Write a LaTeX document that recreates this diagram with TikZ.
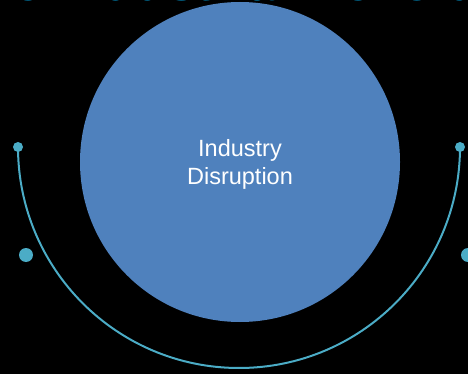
\documentclass[tikz,border=0pt]{standalone}
\usepackage{fontspec}
\setmainfont{Liberation Sans}
\definecolor{bluefill}{RGB}{79,129,189}
\definecolor{tealline}{RGB}{75,172,198}
\definecolor{titlecyan}{RGB}{0,166,226}
\begin{document}
\begin{tikzpicture}[x=1pt,y=-1pt,
  arcline/.style={draw=tealline,line width=2pt},
  dot/.style={circle,fill=tealline,inner sep=0pt},
  label/.style={text=white,font=\fontsize{23.5}{28}\selectfont,align=center}]
  \useasboundingbox (0,0) rectangle (468,374);
  \fill[black] (0,0) rectangle (468,374);
  % title line, mostly above the frame
  \begin{scope}
    \clip (0,0) rectangle (468,374);
    \node[anchor=base west,inner sep=0pt,text=titlecyan,
      font=\bfseries\fontsize{52}{60}\selectfont] (title) at (-18,0.8) {he Industrial Revolution};
  \end{scope}
  % main circle
  \node[circle,fill=bluefill,minimum size=320pt,inner sep=0pt] (disc) at (240,162) {};
  \node[label] (txt) at (240,164) {Industry\\Disruption};
  % half ring with end dots
  \node[dot,minimum size=10pt] (l) at (18,147) {};
  \node[dot,minimum size=10pt] (r) at (460,147) {};
  \draw[arcline] (l.center) arc[start angle=180,end angle=0,radius=221];
  \node[dot,minimum size=14pt] (d1) at (26,255) {};
  \node[dot,minimum size=14pt] (d2) at (468,255) {};
\end{tikzpicture}
\end{document}
